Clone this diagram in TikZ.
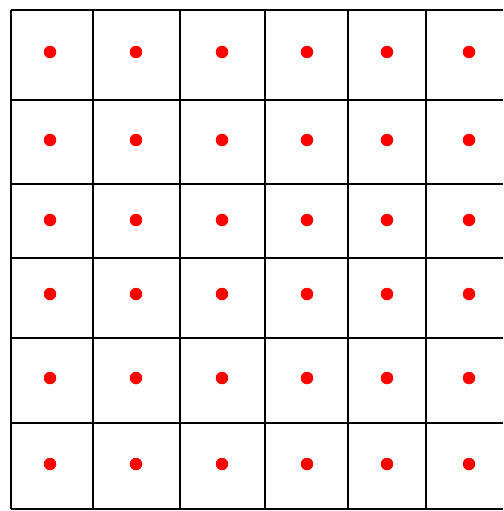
\documentclass[tikz,border=0pt]{standalone}
\begin{document}
\begin{tikzpicture}[x=1pt,y=-1pt,
  gridline/.style={black,line width=1.6pt},
  dot/.style={circle,fill=red,draw=none,inner sep=0pt,minimum size=12.5pt}]
\useasboundingbox[fill=white] (0,0) rectangle (503,511);
% vertical lines
\foreach \x in {11,93,180,265,348,426} {
  \draw[gridline] (\x,10) -- (\x,509);
}
% horizontal lines
\foreach \y in {10,100,184,258,338,423,509} {
  \draw[gridline] (11,\y) -- (503,\y);
}
% dots
\foreach \x [count=\i] in {50,136,222,307,387,469} {
  \foreach \y [count=\j] in {52,140,220,294,378,464} {
    \node[dot] (d\i-\j) at (\x,\y) {};
  }
}
\end{tikzpicture}
\end{document}
